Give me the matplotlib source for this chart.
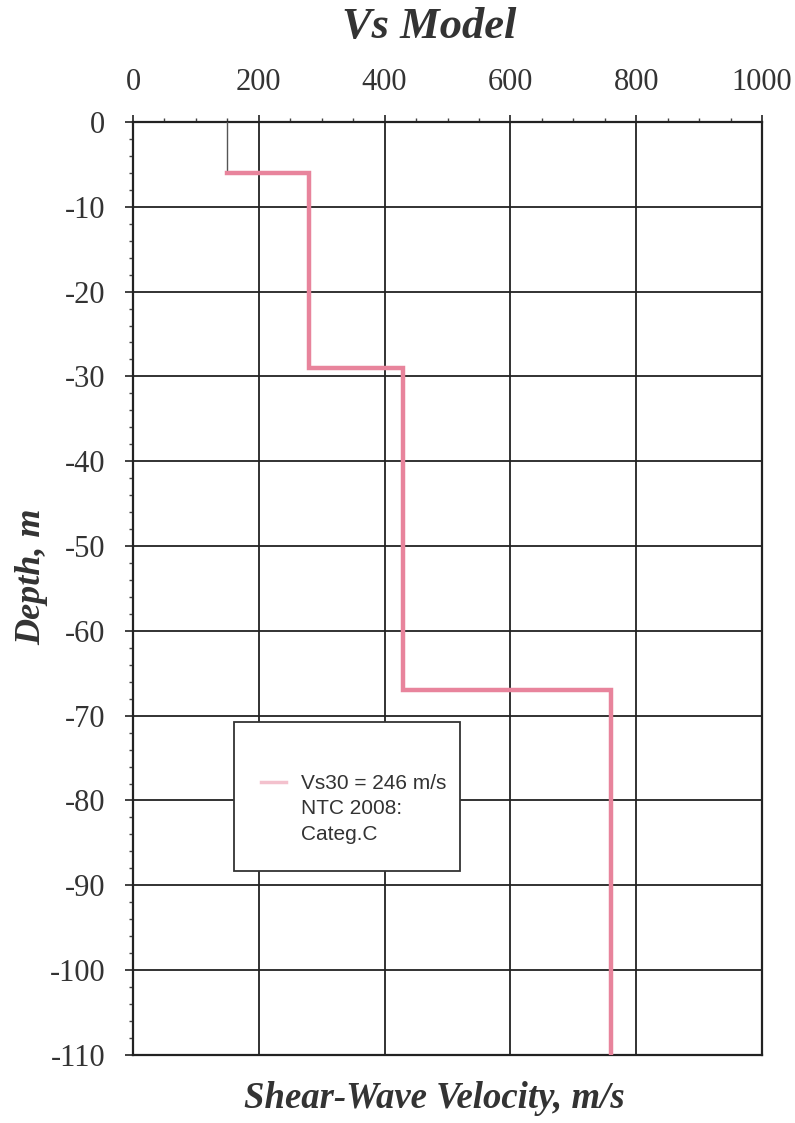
import numpy as np
import matplotlib.pyplot as plt
from matplotlib.lines import Line2D

# layered shear-wave velocity model (m/s) and layer tops (m)
layer_vs = [150, 280, 430, 760]
layer_top = [0, 6, 29, 67]
max_depth = 110

x_ticks = [0, 200, 400, 600, 800, 1000]
y_ticks = [0, -10, -20, -30, -40, -50, -60, -70, -80, -90, -100, -110]
legend_lines = ["Vs30 = 246 m/s", "NTC 2008:", "Categ.C"]

PINK = "#e8849c"
INK = "#333333"
SERIF = ["Liberation Serif", "DejaVu Serif"]
plt.rcParams["axes.unicode_minus"] = False

# build step profile
bottoms = layer_top[1:] + [max_depth]
vs_step, z_step = [], []
for v, t, b in zip(layer_vs, layer_top, bottoms):
    vs_step += [v, v]
    z_step += [-t, -b]

fig = plt.figure(figsize=(7.95, 11.23), dpi=100)
ax = fig.add_axes([0.1673, 0.0606, 0.7912, 0.8308])

# first layer drawn thin and dark, rest in pink
ax.plot(vs_step[:2], z_step[:2], color="#555555", lw=1.0, zorder=3)
ax.plot(vs_step[1:], z_step[1:], color=PINK, lw=3.2, solid_joinstyle="miter", zorder=3)

ax.set_xlim(0, 1000)
ax.set_ylim(-110, 0)
ax.set_xticks(x_ticks)
ax.set_yticks(y_ticks)
ax.set_xticks(np.arange(0, 1001, 50), minor=True)
ax.set_yticks(np.arange(-110, 1, 2), minor=True)
ax.xaxis.tick_top()

ax.grid(True, which="major", color="#222222", lw=1.3)
for s in ax.spines.values():
    s.set_color("#222222")
    s.set_linewidth(1.6)

ax.tick_params(axis="x", which="major", direction="out", length=5, width=1.3,
               pad=13, labelsize=22, colors=INK)
ax.tick_params(axis="y", which="major", direction="out", length=6, width=1.3,
               pad=14, labelsize=22, colors=INK)
ax.tick_params(which="minor", direction="out", length=3, width=1.0, color="#444444")
ax.tick_params(axis="x", which="minor", top=True, bottom=False)
for lab in ax.get_xticklabels() + ax.get_yticklabels():
    lab.set_family(SERIF)

# titles placed in figure coords
fig.text(0.546, 0.022, "Shear-Wave Velocity, m/s", family=SERIF, fontsize=26.5,
         fontweight="bold", style="italic", color=INK, ha="center", va="center")
fig.text(0.040, 0.486, "Depth, m", family=SERIF, fontsize=26, rotation=90,
         fontweight="bold", style="italic", color=INK, ha="center", va="center")
fig.text(0.54, 0.976, "Vs Model", family=SERIF, fontsize=32, fontweight="bold",
         style="italic", color=INK, ha="center", va="center")

# blank first row pushes the text down like in the original box
blank = Line2D([], [], color="none")
handles = [blank, Line2D([], [], color=PINK, lw=2.5, alpha=0.5), blank, blank]
labels = [""] + legend_lines
leg = ax.legend(handles, labels, loc="upper left",
                bbox_to_anchor=(0.161, 0.357, 0.359, 0.0), mode="expand",
                prop={"family": "Liberation Sans", "size": 15},
                frameon=True, fancybox=False, framealpha=1, edgecolor="#333333",
                handlelength=1.2, handletextpad=0.7, labelspacing=0.3,
                borderpad=1.3, borderaxespad=0)
leg.get_frame().set_linewidth(1.3)
for t in leg.get_texts():
    t.set_color(INK)

fig.savefig("out.png", dpi=100)
